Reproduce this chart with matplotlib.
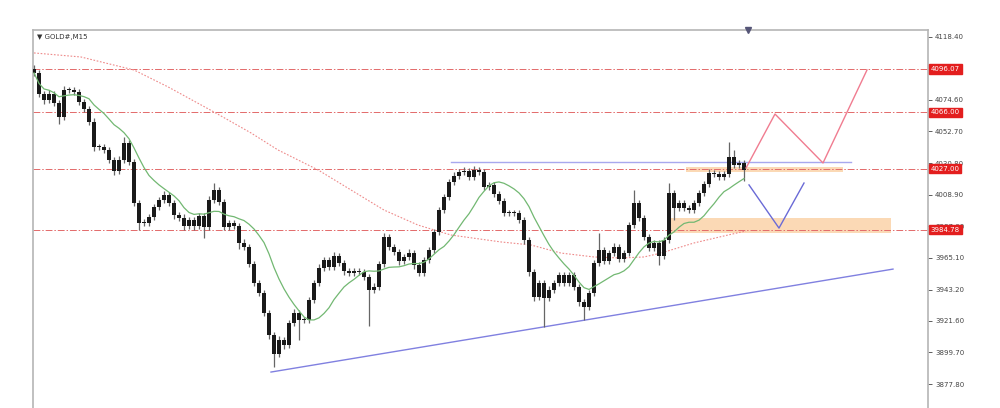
import numpy as np
import pandas as pd
import matplotlib
matplotlib.use('Agg')
import matplotlib.pyplot as plt
from matplotlib.patches import Rectangle

# GOLD#, M15 - closes (one value per bar)
closes = [
    4093.3, 4078.7, 4074.5, 4078.7, 4072.5, 4062.8, 4081.5, 4081.5, 4080.1, 4073.2,
    4068.3, 4059.3, 4042.0, 4042.0, 4039.9, 4033.0, 4025.4, 4033.0, 4044.8, 4031.6,
    4003.2, 3989.3, 3989.3, 3993.5, 4000.4, 4005.3, 4008.7, 4003.2, 3994.9, 3992.8,
    3987.3, 3991.4, 3987.3, 3994.2, 3986.6, 4005.3, 4012.2, 4003.9, 3986.6, 3989.3,
    3987.3, 3975.5, 3972.7, 3960.9, 3947.8, 3940.8, 3927.0, 3911.7, 3898.6, 3908.3,
    3904.8, 3920.1, 3927.0, 3922.1, 3922.1, 3936.0, 3947.8, 3958.2, 3963.7, 3958.9,
    3966.5, 3961.6, 3956.1, 3954.7, 3956.1, 3955.4, 3951.9, 3942.9, 3945.0, 3960.9,
    3979.6, 3972.7, 3969.2, 3963.0, 3965.8, 3968.5, 3960.2, 3954.7, 3963.7, 3970.6,
    3983.1, 3998.3, 4007.4, 4017.7, 4021.9, 4024.7, 4025.4, 4021.2, 4026.1, 4024.7,
    4014.3, 4015.7, 4009.4, 4004.6, 3996.3, 3996.3, 3996.3, 3991.4, 3977.6, 3955.4,
    3938.1, 3947.8, 3937.4, 3942.9, 3947.8, 3953.3, 3947.8, 3953.3, 3945.0, 3934.6,
    3931.1, 3940.8, 3961.6, 3970.6, 3963.0, 3968.5, 3972.7, 3964.4, 3968.5, 3987.9,
    4003.2, 3992.8, 3979.6, 3972.0, 3975.5, 3966.5, 3977.6, 4010.1, 3999.7, 4003.2,
    3999.7, 3998.3, 4003.2, 4010.1, 4016.3, 4023.9, 4023.3, 4021.2, 4023.3, 4035.1,
    4029.5, 4030.9, 4026.1,
]
first_open = 4096.0

upper_wick = [
    3, 2, 2, 3, 2, 2, 3, 2, 2, 2,
    2, 2, 3, 2, 2, 2, 2, 3, 4, 2,
    2, 2, 3, 2, 2, 2, 3, 2, 2, 2,
    3, 2, 2, 2, 2, 3, 5, 2, 2, 2,
    2, 2, 3, 2, 2, 2, 2, 2, 2, 3,
    2, 2, 3, 2, 2, 2, 2, 3, 2, 2,
    3, 2, 2, 2, 2, 2, 2, 2, 3, 2,
    3, 2, 2, 2, 2, 3, 2, 2, 2, 2,
    2, 2, 2, 2, 3, 2, 3, 2, 3, 2,
    2, 2, 2, 2, 2, 2, 2, 2, 2, 2,
    2, 2, 2, 3, 2, 2, 2, 2, 2, 2,
    2, 2, 2, 12, 2, 2, 3, 2, 2, 2,
    9, 2, 2, 2, 2, 2, 2, 7, 2, 2,
    2, 2, 2, 2, 2, 3, 2, 2, 2, 10,
    5, 2, 2,
]
lower_wick = [
    2, 2, 3, 2, 2, 5, 2, 2, 2, 2,
    2, 2, 3, 2, 2, 2, 3, 2, 2, 2,
    2, 5, 2, 2, 2, 2, 2, 2, 3, 2,
    3, 2, 3, 2, 8, 2, 2, 2, 2, 2,
    2, 4, 2, 2, 2, 2, 2, 3, 9, 2,
    3, 2, 2, 14, 2, 2, 2, 2, 2, 2,
    2, 2, 3, 2, 2, 2, 2, 25, 2, 2,
    2, 2, 2, 3, 2, 2, 3, 2, 2, 2,
    2, 2, 2, 2, 2, 2, 2, 2, 2, 2,
    2, 2, 2, 2, 2, 2, 2, 2, 3, 3,
    3, 2, 20, 2, 2, 2, 2, 2, 2, 3,
    9, 2, 2, 2, 2, 2, 2, 2, 2, 2,
    2, 2, 2, 2, 2, 6, 2, 2, 8, 2,
    2, 2, 2, 2, 2, 2, 2, 2, 2, 2,
    2, 2, 8,
]

# slow moving average (dotted red), read as (bar, price) points
slow_ma_bar = [0, 9.4, 13.4, 20, 26.8, 36, 43.4, 48.8, 56.8, 63.4, 70, 76.8,
               83.4, 93.4, 99.4, 105.4, 112, 117.4, 122, 125.4, 132, 138.8, 142.4]
slow_ma_price = [4107.1, 4104.3, 4100.9, 4095.3, 4083.6, 4066.2, 4051.7, 4039.9,
                 4026.1, 4012.2, 3998.3, 3987.9, 3981.0, 3976.2, 3974.1, 3968.5,
                 3965.8, 3965.1, 3965.8, 3968.5, 3975.5, 3981.0, 3983.8]

levels = [4096.07, 4066.00, 4027.00, 3984.78]
level_labels = ['4096.07', '4066.00', '4027.00', '3984.78']

yticks = [4118.40, 4074.60, 4052.70, 4030.80, 4008.90, 3987.00,
          3965.10, 3943.20, 3921.60, 3899.70, 3877.80]

trend_bar = [47.4, 171.8]
trend_price = [3886.1, 3957.4]

resist_bar = [83.4, 163.4]
resist_price = [4031.6, 4031.6]

bull_bar = [142.4, 148.2, 157.8, 166.6]
bull_price = [4027.4, 4064.8, 4030.9, 4095.3]

bear_bar = [143, 149, 154]
bear_price = [4015.7, 3985.8, 4017.0]

# orange zones: (bar start, bar end, price low, price high)
zones = [(130.4, 161.8, 4024.6, 4028.1),
         (127.0, 171.4, 3982.4, 3992.8)]

opens = [first_open] + closes[:-1]
highs = [max(o, c) + u for o, c, u in zip(opens, closes, upper_wick)]
lows = [min(o, c) - l for o, c, l in zip(opens, closes, lower_wick)]
x = np.arange(len(closes))
fast_ma = pd.Series(closes).rolling(12, min_periods=1).mean()

fig = plt.figure(figsize=(10, 4.08), dpi=100)
ax = fig.add_axes([0.033, 0.0, 0.895, 0.9265])
ax.set_xlim(-0.2, 178.8)
ax.set_ylim(3861.2, 4123.0)

for z in zones:
    ax.add_patch(Rectangle((z[0], z[2]), z[1] - z[0], z[3] - z[2],
                           facecolor='#fbd3a8', edgecolor='none', alpha=0.85, zorder=1))

for lv in levels:
    ax.axhline(lv, color='#e36a6a', lw=0.7, ls=(0, (7, 2, 1.5, 2)), zorder=2)

ax.plot(slow_ma_bar, slow_ma_price, color='#ee8a8a', lw=0.8, ls=(0, (1.5, 1.5)), zorder=2)
ax.plot(resist_bar, resist_price, color='#a8a8ee', lw=1.0, zorder=2)
ax.plot(trend_bar, trend_price, color='#8080e0', lw=1.0, zorder=2)

ax.vlines(x, lows, highs, color='#666666', lw=0.9, zorder=3)
body_bottom = [min(o, c) for o, c in zip(opens, closes)]
body_h = [max(abs(c - o), 0.8) for o, c in zip(opens, closes)]
ax.bar(x, body_h, bottom=body_bottom, width=0.75, color='#1a1a1a', zorder=4)

ax.plot(x, fast_ma, color='#72b872', lw=0.9, zorder=5)

ax.plot(bull_bar, bull_price, color='#f07c90', lw=1.0, zorder=5)
ax.plot(bear_bar, bear_price, color='#6a6ad6', lw=1.0, zorder=5)

# axis styling like the terminal
ax.yaxis.tick_right()
ax.set_yticks(yticks)
ax.set_yticklabels(['%.2f' % t for t in yticks])
ax.tick_params(axis='y', labelsize=5, colors='#444444', length=3, width=0.6, pad=2)
ax.set_xticks([])
for s in ['left', 'right', 'top']:
    ax.spines[s].set_color('#b5b5b5')
    ax.spines[s].set_linewidth(1.2)
ax.spines['bottom'].set_visible(False)

for lv, lb in zip(levels, level_labels):
    ax.text(1.003, lv, lb, transform=ax.get_yaxis_transform(), fontsize=5,
            color='white', va='center', ha='left', zorder=10, clip_on=False,
            bbox=dict(boxstyle='square,pad=0.25', fc='#e31e1e', ec='#e31e1e'))

ax.text(0.004, 0.99, '▼ GOLD#,M15', transform=ax.transAxes, fontsize=5,
        va='top', ha='left', color='#333333')
ax.plot([142.8], [4123.0], marker='v', color='#555577', markersize=4, clip_on=False, zorder=10)

fig.savefig('out.png', dpi=100, facecolor='white')
